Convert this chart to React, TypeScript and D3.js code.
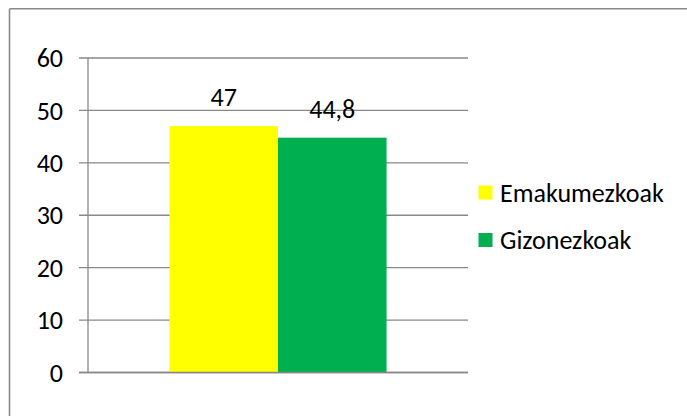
import React from "react";
import * as d3 from "d3";

const categories = [""];
const seriesNames = ["Emakumezkoak", "Gizonezkoak"];
const seriesValues = [[47], [44.8]];
const seriesLabels = ["47", "44,8"];
const seriesColors = ["#FFFF00", "#00B050"];
const yTicks = [0, 10, 20, 30, 40, 50, 60];

const W = 687;
const H = 416;
const FONT = "Carlito, Calibri, Lato, sans-serif";
const FS = 26;

export default function App() {
  const x0 = 88;
  const x1 = 468;
  const y = d3.scaleLinear().domain([0, 60]).range([372.5, 58]);
  const outer = d3.scaleBand<string>().domain(categories).range([x0, x1]).padding(0);
  const step = outer.step();
  const gap = 1.5;
  const barW = step / (seriesNames.length + gap);
  const inner = d3
    .scaleBand<string>()
    .domain(seriesNames)
    .range([0, barW * seriesNames.length])
    .padding(0);
  const groupOffset = (step - barW * seriesNames.length) / 2;
  const grid = "#888888";

  return (
    <svg
      width={W}
      height={H}
      style={{ position: "absolute", left: 0, top: 0, background: "#fff" }}
      fontFamily={FONT}
    >
      <rect x={0} y={0} width={W} height={H} fill="#fff" />
      <line x1={9.5} y1={8.8} x2={W + 2} y2={8.8} stroke="#8a8a8a" strokeWidth={1.6} />
      <line x1={9.5} y1={8.8} x2={9.5} y2={H + 2} stroke="#8a8a8a" strokeWidth={1.6} />

      {yTicks.map((t) => (
        <g key={t}>
          <line x1={79} x2={x1} y1={y(t)} y2={y(t)} stroke={grid} strokeWidth={1.3} />
          <text x={63} y={y(t)} dy="0.35em" textAnchor="end" fontSize={FS} fill="#000">
            {t}
          </text>
        </g>
      ))}

      {categories.map((c) =>
        seriesNames.map((s, i) => {
          const bx = (outer(c) as number) + groupOffset + (inner(s) as number);
          const v = seriesValues[i][categories.indexOf(c)];
          return (
            <g key={c + s}>
              <rect
                x={bx}
                y={y(v)}
                width={inner.bandwidth()}
                height={y(0) - y(v)}
                fill={seriesColors[i]}
              />
              <text
                x={bx + inner.bandwidth() / 2}
                y={y(v) - 20}
                textAnchor="middle"
                fontSize={FS}
                fill="#000"
              >
                {seriesLabels[i]}
              </text>
            </g>
          );
        })
      )}

      <line x1={x0} x2={x0} y1={y(60)} y2={y(0)} stroke={grid} strokeWidth={1.3} />
      <line x1={79} x2={x1} y1={y(0)} y2={y(0)} stroke={grid} strokeWidth={1.3} />

      {seriesNames.map((s, i) => {
        const cy = 192.5 + i * 47.5;
        return (
          <g key={s}>
            <rect x={478.5} y={cy - 7} width={14} height={14} fill={seriesColors[i]} />
            <text x={500} y={cy} dy="0.35em" fontSize={FS} fill="#000">
              {s}
            </text>
          </g>
        );
      })}
    </svg>
  );
}
